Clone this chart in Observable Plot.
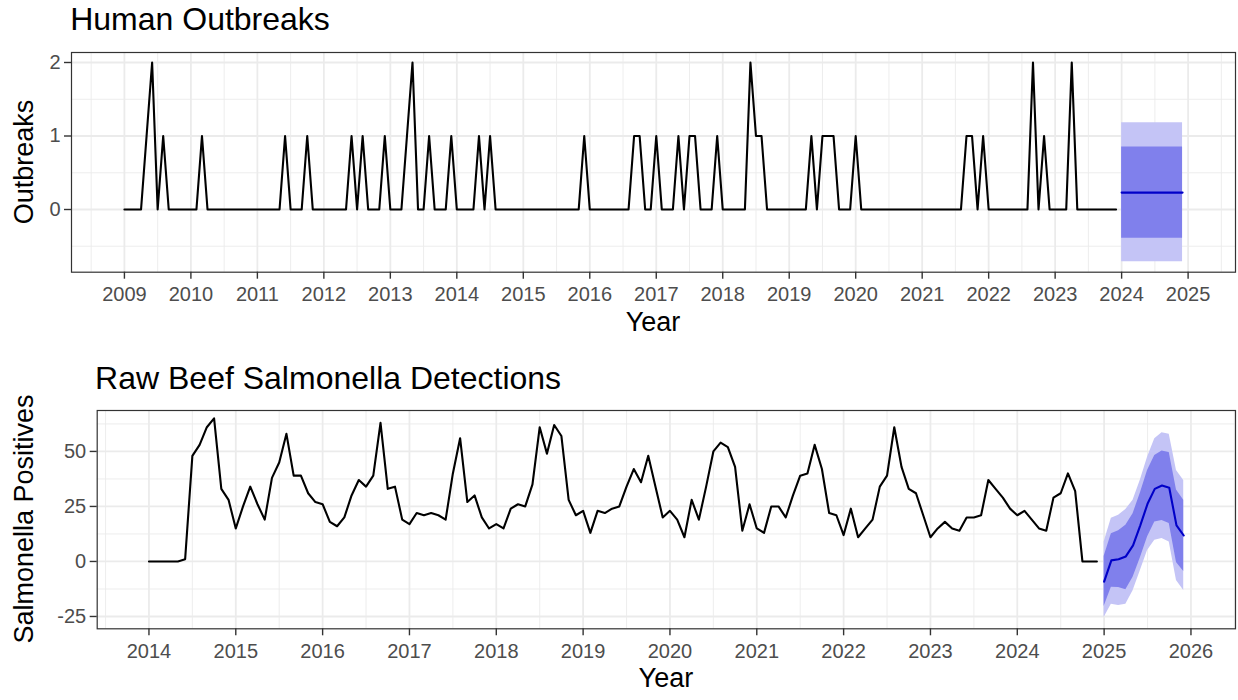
<!DOCTYPE html>
<html>
<head>
<meta charset="utf-8">
<script src="https://cdn.jsdelivr.net/npm/d3@7"></script>
<script src="https://cdn.jsdelivr.net/npm/@observablehq/plot@0.6"></script>
<style>
  body { margin: 0; background: #fff; font-family: "Liberation Sans", Arial, Helvetica, sans-serif; }
  #chart { position: relative; width: 1238px; height: 700px; overflow: hidden; }
  #chart svg { position: absolute; left: 0; }
  .lbl { position: absolute; white-space: nowrap; line-height: 1; color: #000; }
  .title { font-size: 32px; }
  .axtitle { font-size: 27px; }
</style>
</head>
<body>
<div id="chart"></div>
<script>
// ---- Human outbreaks: monthly counts, Jan 2009 – Dec 2023 ----
const outbreakStartYear = 2009;
const outbreakCounts = [
  0,0,0,0,1,2,0,1,0,0,0,0,   // 2009
  0,0,1,0,0,0,0,0,0,0,0,0,   // 2010
  0,0,0,0,0,1,0,0,0,1,0,0,   // 2011
  0,0,0,0,0,1,0,1,0,0,0,1,   // 2012
  0,0,0,1,2,0,0,1,0,0,0,1,   // 2013
  0,0,0,0,1,0,1,0,0,0,0,0,   // 2014
  0,0,0,0,0,0,0,0,0,0,0,1,   // 2015
  0,0,0,0,0,0,0,0,1,1,0,0,   // 2016
  1,0,0,0,1,0,1,1,0,0,0,1,   // 2017
  0,0,0,0,0,2,1,1,0,0,0,0,   // 2018
  0,0,0,0,1,0,1,1,1,0,0,0,   // 2019
  1,0,0,0,0,0,0,0,0,0,0,0,   // 2020
  0,0,0,0,0,0,0,0,1,1,0,1,   // 2021
  0,0,0,0,0,0,0,0,2,0,1,0,   // 2022
  0,0,0,2,0,0,0,0,0,0,0,0    // 2023
];
// 2024 forecast (point forecast with 80% and 95% intervals)
const outbreakForecastYear = 2024;
const outbreakMean = [0.23,0.23,0.23,0.23,0.23,0.23,0.23,0.23,0.23,0.23,0.23,0.23];
const outbreakLo80 = [-0.39,-0.39,-0.39,-0.39,-0.39,-0.39,-0.39,-0.39,-0.39,-0.39,-0.39,-0.39];
const outbreakHi80 = [0.85,0.85,0.85,0.85,0.85,0.85,0.85,0.85,0.85,0.85,0.85,0.85];
const outbreakLo95 = [-0.71,-0.71,-0.71,-0.71,-0.71,-0.71,-0.71,-0.71,-0.71,-0.71,-0.71,-0.71];
const outbreakHi95 = [1.18,1.18,1.18,1.18,1.18,1.18,1.18,1.18,1.18,1.18,1.18,1.18];

// ---- Raw beef Salmonella positives: monthly, Jan 2014 – Dec 2024 ----
const beefStartYear = 2014;
const beefPositives = [
  0,0,0,0,0,1,48,53,61,65,33,28,          // 2014
  15,25,34,26,19,38,45,58,39,39,31,27,    // 2015
  26,18,16,20,30,37,34,39,63,33,34,19,    // 2016
  17,22,21,22,21,19,40,56,27,30,20,15,    // 2017
  17,15,24,26,25,35,61,49,62,57,28,21,    // 2018
  23,13,23,22,24,25,34,42,36,48,34,20,    // 2019
  23,19,11,28,19,34,50,54,52,43,14,26,    // 2020
  15,13,25,25,20,30,39,40,53,42,22,21,    // 2021
  12,24,11,15,19,34,39,61,43,33,31,21,    // 2022
  11,15,18,15,14,20,20,21,37,33,29,24,    // 2023
  21,23,19,15,14,29,31,40,32,0,0,0        // 2024
];
// 2025 forecast
const beefForecastYear = 2025;
const beefMean = [-9.2, 0.5, 1, 2.3, 7.3, 16.4, 26.2, 33, 34.5, 33.5, 16.4, 11.8];
const beefLo80 = [-20.5, -11.7, -11.8, -12.8, -7.2, 1.6, 11.1, 17.9, 18.6, 17.3, -0.5, -4.6];
const beefHi80 = [2.2, 12.6, 14, 16.5, 21.7, 31, 41.3, 48.2, 50.2, 49.5, 32.5, 27.8];
const beefLo95 = [-25.5, -19.4, -20, -19.4, -13.3, -4.2, 5, 9.6, 10.4, 8.9, -8.6, -13.2];
const beefHi95 = [8.8, 19.6, 21, 23.6, 27.8, 36.9, 47.4, 55.8, 58.5, 57.8, 41.3, 36.8];

// ---- tables for Plot ----
const monthly = (start, values) => values.map((v, i) => ({date: start + i / 12, value: v}));
const forecast = (start, mean, lo80, hi80, lo95, hi95) =>
  mean.map((m, i) => ({date: start + i / 12, mean: m, lo80: lo80[i], hi80: hi80[i], lo95: lo95[i], hi95: hi95[i]}));

const outbreakHist = monthly(outbreakStartYear, outbreakCounts);
const outbreakFc = forecast(outbreakForecastYear, outbreakMean, outbreakLo80, outbreakHi80, outbreakLo95, outbreakHi95);
const beefHist = monthly(beefStartYear, beefPositives);
const beefFc = forecast(beefForecastYear, beefMean, beefLo80, beefHi80, beefLo95, beefHi95);

const GRID = "#ebebeb";
const INK = "#333333";
const TEXT = "#4d4d4d";

function panel({hist, fc, xDomain, yDomain, xTicks, xMinor, yTicks, yMinor, marginLeft, marginTop, marginBottom, height}) {
  return Plot.plot({
    width: 1238, height,
    marginLeft, marginRight: 3, marginTop, marginBottom,
    style: {background: "transparent", fontFamily: "'Liberation Sans', Arial, Helvetica, sans-serif", fontSize: "20px", overflow: "visible"},
    x: {domain: xDomain, label: null},
    y: {domain: yDomain, label: null},
    marks: [
      Plot.gridX(xMinor, {stroke: GRID, strokeOpacity: 1, strokeWidth: 0.9}),
      Plot.gridY(yMinor, {stroke: GRID, strokeOpacity: 1, strokeWidth: 0.9}),
      Plot.gridX(xTicks, {stroke: GRID, strokeOpacity: 1, strokeWidth: 1.8}),
      Plot.gridY(yTicks, {stroke: GRID, strokeOpacity: 1, strokeWidth: 1.8}),
      Plot.areaY(fc, {x: "date", y1: "lo95", y2: "hi95", fill: "#c4c4f6"}),
      Plot.areaY(fc, {x: "date", y1: "lo80", y2: "hi80", fill: "#8080ec"}),
      Plot.lineY(hist, {x: "date", y: "value", stroke: "#000", strokeWidth: 2.1}),
      Plot.lineY(fc, {x: "date", y: "mean", stroke: "#0000c8", strokeWidth: 2.1}),
      Plot.frame({stroke: INK, strokeWidth: 1.2}),
      Plot.axisX(xTicks, {tickSize: 7, tickPadding: 8, tickFormat: d => String(d), fill: TEXT, stroke: INK, strokeWidth: 1.4, label: null}),
      Plot.axisY(yTicks, {tickSize: 7, tickPadding: 4, tickFormat: d => String(d), fill: TEXT, stroke: INK, strokeWidth: 1.4, label: null})
    ]
  });
}

const chart = document.getElementById("chart");

const outbreakPanel = panel({
  hist: outbreakHist, fc: outbreakFc,
  xDomain: [2008.204, 2025.713], yDomain: [-0.853, 2.136],
  xTicks: d3.range(2009, 2026), xMinor: d3.range(2008.5, 2026, 1),
  yTicks: [0, 1, 2], yMinor: [-0.5, 0.5, 1.5],
  marginLeft: 71, marginTop: 12, marginBottom: 38.3, height: 270
});
outbreakPanel.style.top = "40px";
chart.appendChild(outbreakPanel);

const beefPanel = panel({
  hist: beefHist, fc: beefFc,
  xDomain: [2013.404, 2026.513], yDomain: [-30.6, 68.6],
  xTicks: d3.range(2014, 2027), xMinor: d3.range(2013.5, 2027, 1),
  yTicks: [-25, 0, 25, 50], yMinor: [-12.5, 12.5, 37.5, 62.5],
  marginLeft: 96.7, marginTop: 14, marginBottom: 37.7, height: 270
});
beefPanel.style.top = "396px";
chart.appendChild(beefPanel);

// titles and axis titles
function addLabel(text, cls, css) {
  const d = document.createElement("div");
  d.className = "lbl " + cls;
  d.textContent = text;
  Object.assign(d.style, css);
  chart.appendChild(d);
}
addLabel("Human Outbreaks", "title", {left: "70.2px", top: "2.9px"});
addLabel("Raw Beef Salmonella Detections", "title", {left: "95.1px", top: "361.7px"});
addLabel("Year", "axtitle", {left: "653px", top: "308.8px", transform: "translateX(-50%)"});
addLabel("Year", "axtitle", {left: "665.9px", top: "665.4px", transform: "translateX(-50%)"});
addLabel("Outbreaks", "axtitle", {left: "23.9px", top: "162px", transform: "translate(-50%,-50%) rotate(-90deg)"});
addLabel("Salmonella Positives", "axtitle", {left: "23.9px", top: "519.2px", transform: "translate(-50%,-50%) rotate(-90deg)"});
</script>
</body>
</html>
